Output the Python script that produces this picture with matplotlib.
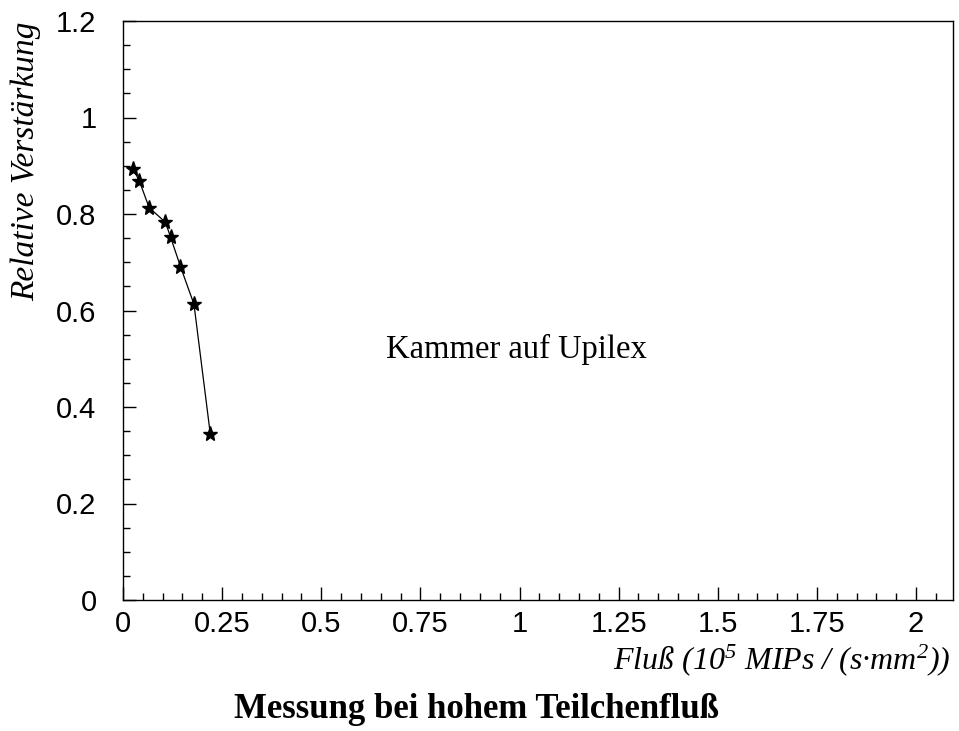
import matplotlib
matplotlib.use("Agg")
import matplotlib.pyplot as plt
from matplotlib.ticker import MultipleLocator, FixedLocator, FixedFormatter

plt.rcParams["mathtext.fontset"] = "custom"
plt.rcParams["mathtext.rm"] = "Liberation Serif:italic"
plt.rcParams["mathtext.it"] = "Liberation Serif:italic"

# Flux (10^5 MIPs / (s*mm^2)) and relative gain of the chamber
flux = [0.025, 0.041, 0.066, 0.107, 0.120, 0.145, 0.179, 0.220]
gain = [0.894, 0.869, 0.813, 0.783, 0.752, 0.691, 0.613, 0.345]

x_ticks = [0, 0.25, 0.5, 0.75, 1, 1.25, 1.5, 1.75, 2]
x_tick_labels = ["0", "0.25", "0.5", "0.75", "1", "1.25", "1.5", "1.75", "2"]
y_ticks = [0, 0.2, 0.4, 0.6, 0.8, 1.0, 1.2]
y_tick_labels = ["0", "0.2", "0.4", "0.6", "0.8", "1", "1.2"]

fig = plt.figure(figsize=(9.59, 7.31), dpi=100)
ax = fig.add_axes([123 / 959, 1 - 600 / 731, (952.5 - 123) / 959, (600 - 21) / 731])

ax.plot(flux, gain, color="black", lw=0.9, marker="*", ms=11, mfc="black", mec="black")

ax.set_xlim(0, 2.092)
ax.set_ylim(0, 1.2)

ax.xaxis.set_major_locator(FixedLocator(x_ticks))
ax.xaxis.set_major_formatter(FixedFormatter(x_tick_labels))
ax.xaxis.set_minor_locator(MultipleLocator(0.05))
ax.yaxis.set_major_locator(FixedLocator(y_ticks))
ax.yaxis.set_major_formatter(FixedFormatter(y_tick_labels))
ax.yaxis.set_minor_locator(MultipleLocator(0.05))

ax.tick_params(which="both", direction="in", top=False, right=False, width=1, color="black")
ax.tick_params(which="major", length=9.5, labelsize=21)
ax.tick_params(which="minor", length=5)
ax.tick_params(axis="x", which="major", pad=7)
ax.tick_params(axis="y", which="major", pad=19)
for lbl in ax.get_xticklabels() + ax.get_yticklabels():
    lbl.set_fontfamily("Liberation Sans")
for s in ax.spines.values():
    s.set_linewidth(1.0)

fig.text(516 / 959, 1 - 349 / 731, "Kammer auf Upilex",
         fontfamily="Liberation Serif", fontsize=23.5, ha="center", va="center")

fig.text(951 / 959, 1 - 660 / 731, r"Fluß (10$^{5}$ MIPs / (s·mm$^{2}$))",
         fontfamily="Liberation Serif", style="italic", fontsize=23,
         ha="right", va="center")
fig.text(26 / 959, 1 - 161 / 731, "Relative Verstärkung", rotation=90,
         fontfamily="Liberation Serif", style="italic", fontsize=24,
         ha="center", va="center")
fig.text(477 / 959, 1 - 709 / 731, "Messung bei hohem Teilchenfluß",
         fontfamily="Liberation Serif", fontweight="bold", fontsize=25,
         ha="center", va="center")

fig.savefig("out.png", dpi=100)
